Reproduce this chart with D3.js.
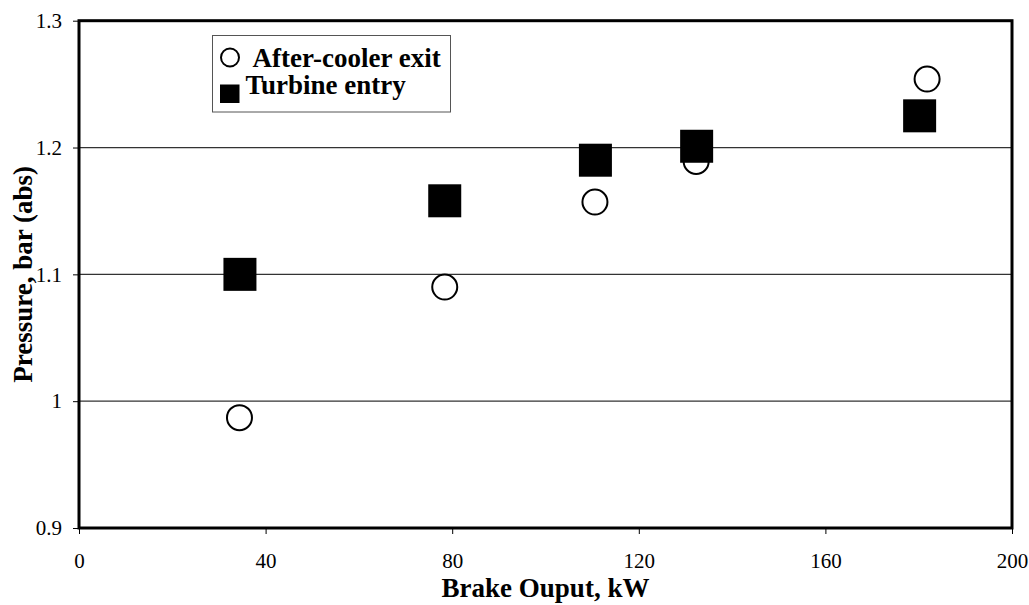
<!DOCTYPE html>
<html>
<head>
<meta charset="utf-8">
<script src="https://cdn.jsdelivr.net/npm/d3@7"></script>
<style>
  body { margin: 0; background: #fff; }
  svg { display: block; }
</style>
</head>
<body>
<div id="chart"></div>
<script>
'use strict';

// ── Data ───────────────────────────────────────────────────────────────────
const afterCoolerX = [34.4, 78.4, 110.6, 132.3, 181.8];
const afterCoolerY = [0.987, 1.090, 1.157, 1.189, 1.254];
const turbineX     = [34.5, 78.4, 110.7, 132.4, 180.2];
const turbineY     = [1.100, 1.158, 1.190, 1.201, 1.225];

const xTicks = [0, 40, 80, 120, 160, 200];
const yTicks = [0.9, 1.0, 1.1, 1.2, 1.3];
const gridValues = [1.0, 1.1, 1.2];
const seriesNames = ['After-cooler exit', 'Turbine entry'];

const FONT = '"Liberation Serif", "Times New Roman", serif';

// ── Layout ─────────────────────────────────────────────────────────────────
const fullW = 1029, fullH = 605;
const margin = { top: 20.7, right: 17, bottom: 77, left: 79 };
const W = fullW - margin.left - margin.right;
const H = fullH - margin.top - margin.bottom;

const x = d3.scaleLinear().domain([0, 200]).range([0, W]);
const y = d3.scaleLinear().domain([0.9, 1.3]).range([H, 0]);

const svg = d3.select('#chart').append('svg')
  .attr('width', fullW).attr('height', fullH);

const g = svg.append('g').attr('transform', `translate(${margin.left},${margin.top})`);

// Grid
g.selectAll('.grid')
  .data(gridValues)
  .join('line')
  .attr('class', 'grid')
  .attr('x1', 0).attr('x2', W)
  .attr('y1', d => y(d)).attr('y2', d => y(d))
  .attr('stroke', '#333').attr('stroke-width', 1.2);

// Axes
const xAxis = g.append('g').attr('transform', `translate(0,${H})`)
  .call(d3.axisBottom(x).tickValues(xTicks).tickSize(6).tickSizeOuter(0).tickPadding(19));
const yAxis = g.append('g')
  .call(d3.axisLeft(y).tickValues(yTicks).tickSize(6).tickSizeOuter(0).tickPadding(11)
    .tickFormat(d => d3.format('')(+d.toFixed(1))));

[xAxis, yAxis].forEach(ax => {
  ax.select('.domain').remove();
  ax.selectAll('line').attr('stroke', '#000').attr('stroke-width', 1);
  ax.selectAll('text').attr('fill', '#000')
    .attr('font-family', FONT).attr('font-size', '21px');
});

// Frame
g.append('rect')
  .attr('x', 0).attr('y', 0).attr('width', W).attr('height', H)
  .attr('fill', 'none').attr('stroke', '#000').attr('stroke-width', 3);

// Markers: circles below, squares on top
const circles = afterCoolerX.map((v, i) => ({ x: v, y: afterCoolerY[i] }));
const squares = turbineX.map((v, i) => ({ x: v, y: turbineY[i] }));

g.selectAll('.ac')
  .data(circles)
  .join('circle')
  .attr('class', 'ac')
  .attr('cx', d => x(d.x)).attr('cy', d => y(d.y)).attr('r', 12.5)
  .attr('fill', '#fff').attr('stroke', '#000').attr('stroke-width', 2);

const S = 33;
g.selectAll('.te')
  .data(squares)
  .join('rect')
  .attr('class', 'te')
  .attr('x', d => x(d.x) - S / 2).attr('y', d => y(d.y) - S / 2)
  .attr('width', S).attr('height', S)
  .attr('fill', '#000');

// Legend
const lg = svg.append('g').attr('transform', 'translate(212.5,35.5)');
lg.append('rect').attr('width', 238).attr('height', 76.5)
  .attr('fill', '#fff').attr('stroke', '#555').attr('stroke-width', 1);
lg.append('circle').attr('cx', 17.5).attr('cy', 22).attr('r', 9)
  .attr('fill', '#fff').attr('stroke', '#000').attr('stroke-width', 2);
lg.append('rect').attr('x', 7.5).attr('y', 49).attr('width', 19.5).attr('height', 18.5)
  .attr('fill', '#000');
lg.selectAll('.lt')
  .data(seriesNames)
  .join('text')
  .attr('class', 'lt')
  .attr('x', (d, i) => i === 0 ? 40 : 33)
  .attr('y', (d, i) => i === 0 ? 31 : 58.5)
  .attr('font-family', FONT).attr('font-weight', 'bold').attr('font-size', '27px')
  .text(d => d);

// Axis titles
svg.append('text')
  .attr('x', margin.left + W / 2).attr('y', 597)
  .attr('text-anchor', 'middle')
  .attr('font-family', FONT).attr('font-weight', 'bold').attr('font-size', '27px')
  .text('Brake Ouput, kW');

svg.append('text')
  .attr('transform', `translate(32,${margin.top + H / 2}) rotate(-90)`)
  .attr('text-anchor', 'middle')
  .attr('font-family', FONT).attr('font-weight', 'bold').attr('font-size', '27px')
  .text('Pressure, bar (abs)');
</script>
</body>
</html>
